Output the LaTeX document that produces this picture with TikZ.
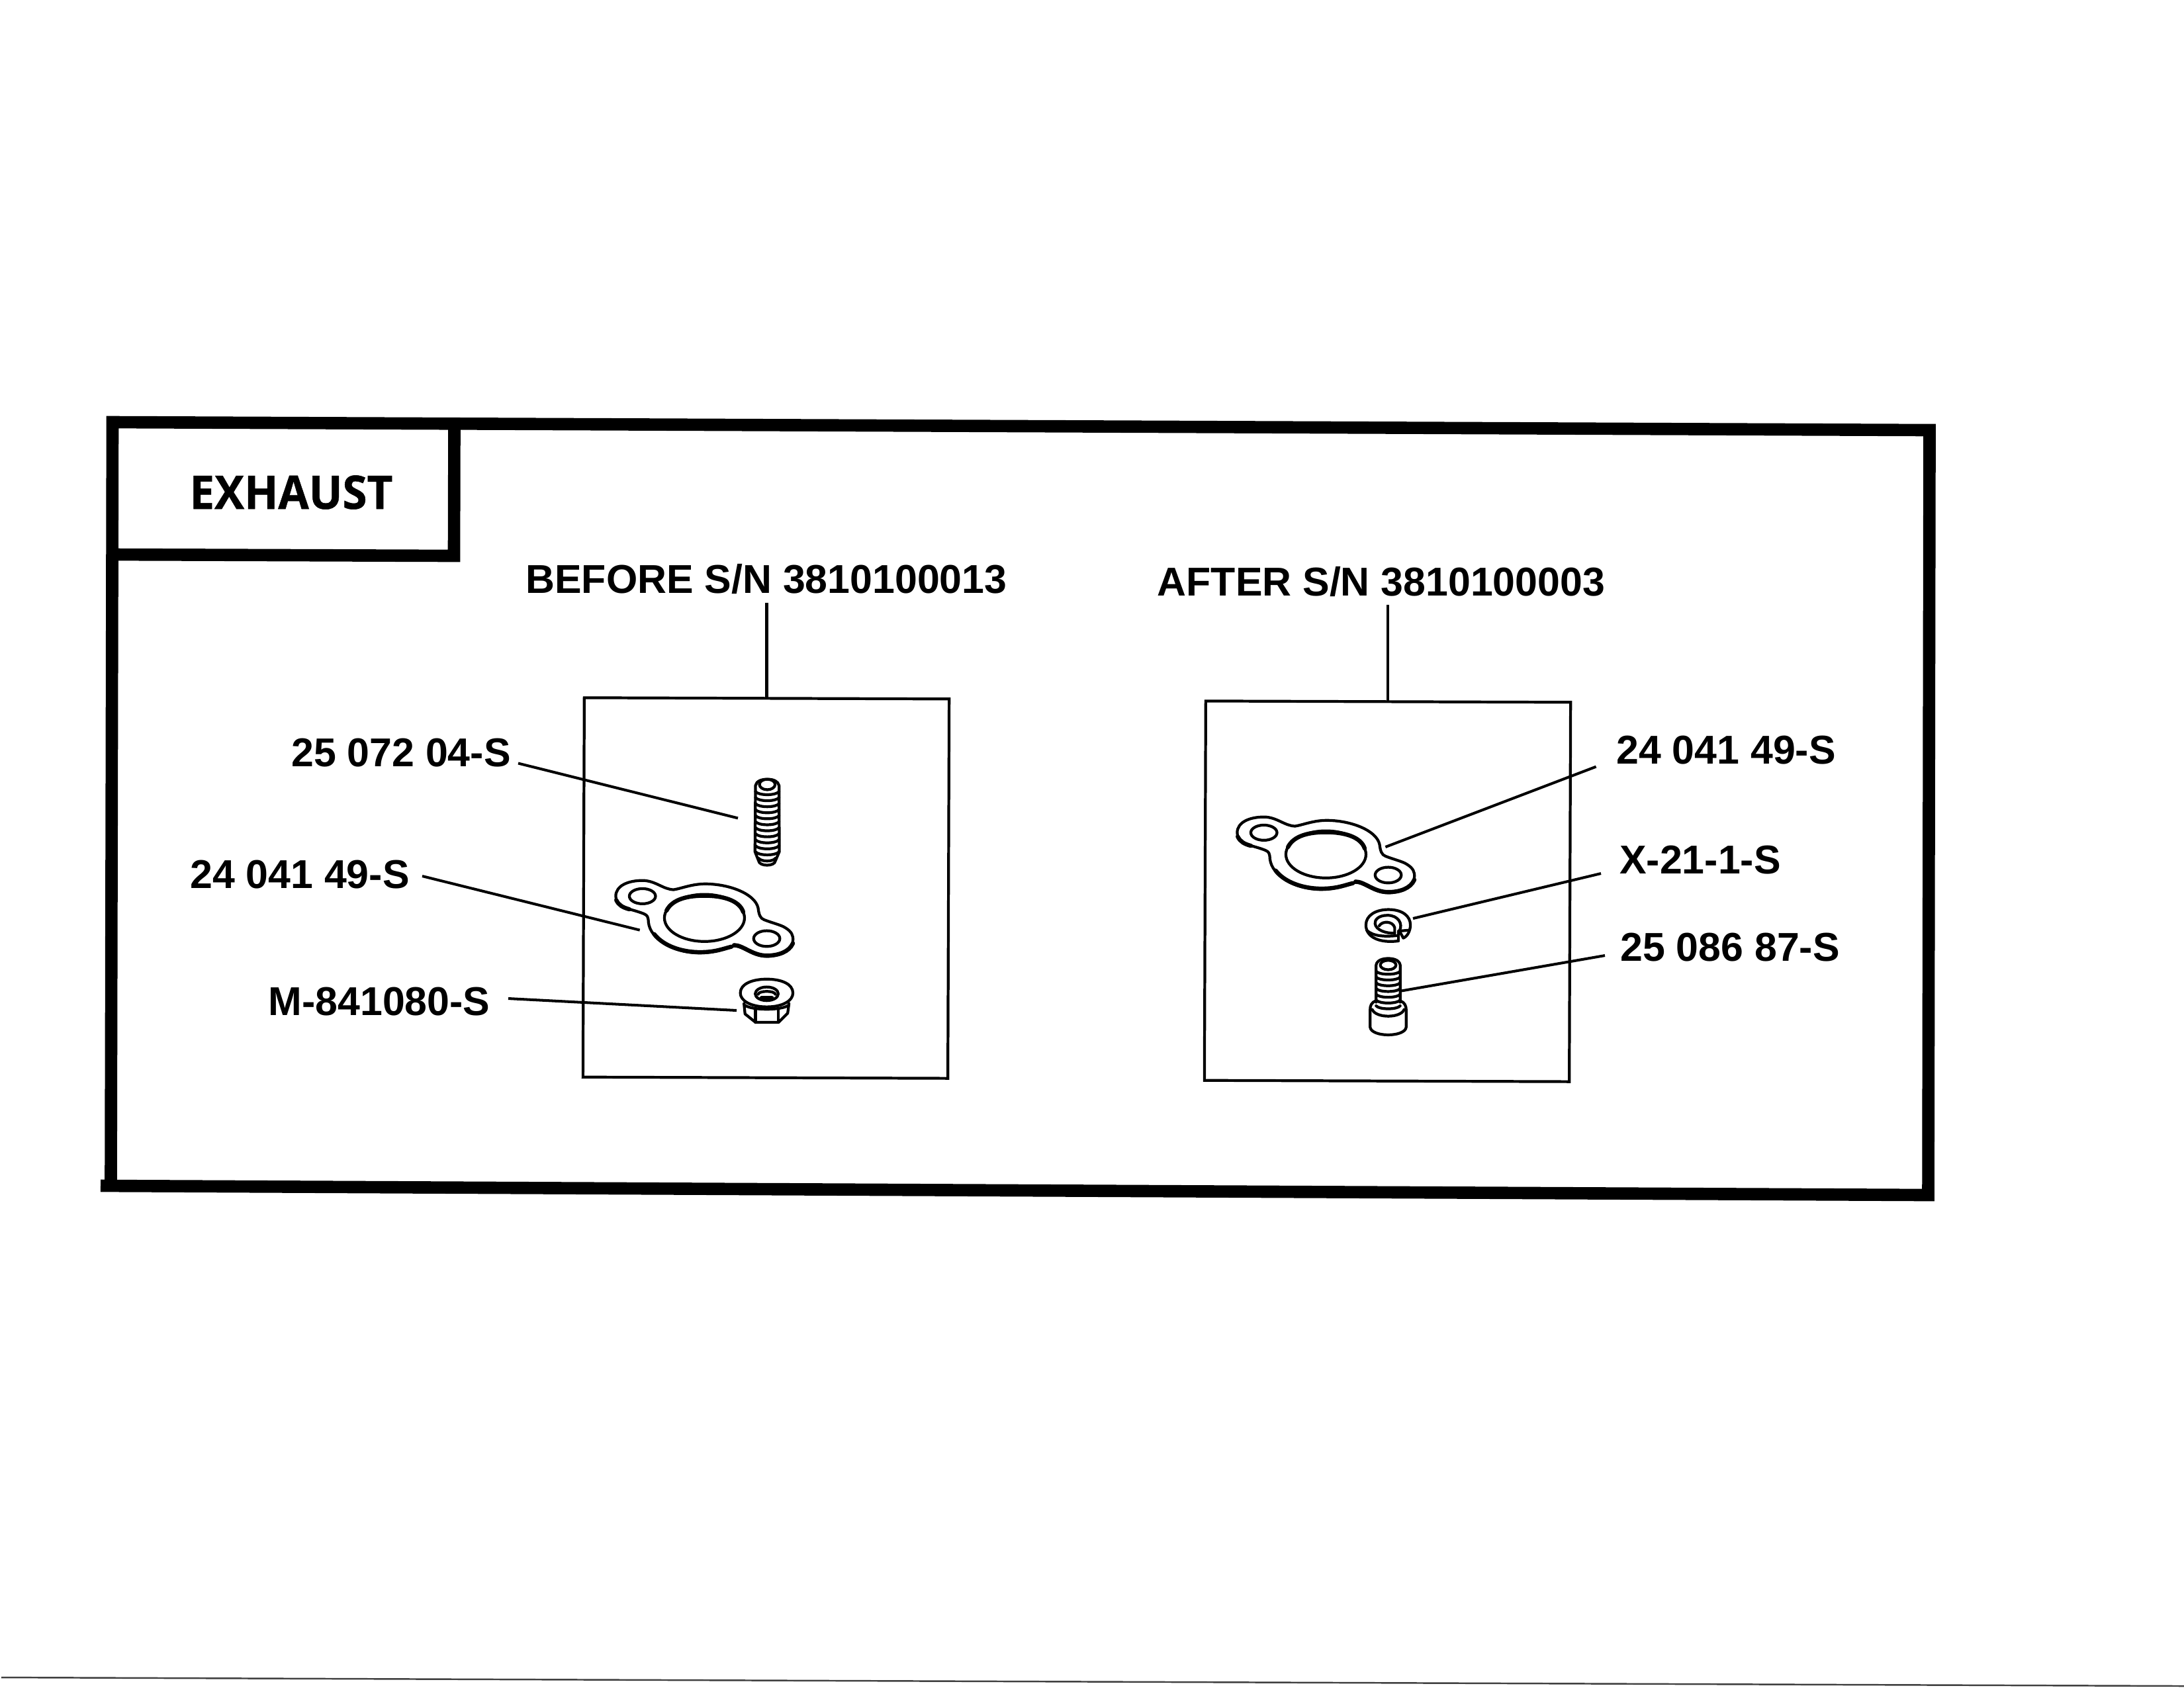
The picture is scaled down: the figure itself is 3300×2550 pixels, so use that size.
\documentclass[tikz,border=0pt]{standalone}
\usepackage{fontspec}
\setmainfont{Liberation Sans}
\newfontfamily\tabfont{Open Sans}[FakeStretch=0.96,FakeBold=0.7]
\tikzset{
  x=0.01cm,y=-0.01cm,
  frameline/.style={line width=5.3pt,line cap=butt,miter limit=10},
  panel/.style={draw,line width=1.2pt,minimum width=5.51cm,minimum height=5.73cm,inner sep=0pt,outer sep=0pt,rotate=-0.2},
  leader/.style={line width=1.15pt},
  part/.style={line width=1.2pt,line join=round,line cap=round},
  heavy/.style={line width=1.8pt,line cap=round},
  partlabel/.style={font=\fontsize{17.3}{21}\selectfont\bfseries,anchor=base,inner sep=0pt},
  tablabel/.style={font=\tabfont\fontsize{19.9}{24}\selectfont\bfseries,anchor=base,inner sep=0pt},
}
\newcommand{\gasketparts}{%
  \draw[part,fill=white] (178,795) .. controls (178,755) and (225,735) .. (280,735)
    .. controls (330,735) and (360,770) .. (400,770)
    .. controls (430,765) and (470,748) .. (520,748)
    .. controls (610,748) and (710,785) .. (722,840)
    .. controls (725,865) and (730,880) .. (745,885)
    .. controls (775,897) and (810,905) .. (825,915)
    .. controls (850,930) and (857,945) .. (855,965)
    .. controls (850,1005) and (800,1025) .. (755,1025)
    .. controls (700,1025) and (665,985) .. (630,985)
    .. controls (600,990) and (560,1012) .. (500,1012)
    .. controls (400,1012) and (310,960) .. (303,895)
    .. controls (302,875) and (300,868) .. (285,862)
    .. controls (255,850) and (225,845) .. (205,835)
    .. controls (185,825) and (178,810) .. (178,795) -- cycle;
  \draw[heavy] (855,975) .. controls (840,1008) and (800,1022) .. (755,1022)
    .. controls (700,1022) and (665,982) .. (630,982);
  \draw[heavy] (620,988) .. controls (590,995) and (560,1009) .. (500,1009)
    .. controls (430,1009) and (360,985) .. (325,940);
  \draw[heavy] (180,810) .. controls (190,830) and (205,838) .. (230,845);
  \draw[part] (280,795) ellipse [x radius=50,y radius=29];
  \draw[part] (755,957) ellipse [x radius=50,y radius=30];
  \draw[part] (517,878) ellipse [x radius=153,y radius=90];
  \draw[heavy] (372,850) .. controls (395,805) and (455,793) .. (517,793)
    .. controls (585,793) and (650,810) .. (665,855);
}
\newcommand{\threads}[4]{% x1, x2, list, bow
  \foreach \ty in {#3} {
    \draw[part] (#1,\ty) .. controls (#1+12,\ty+#4) and (#2-12,\ty+#4) .. (#2,\ty);
  }
}
\begin{document}
\begin{tikzpicture}
\path[use as bounding box] (0,0) rectangle (3300,2550);

% outer frame and title tab
\draw[frameline] (152,1792) -- (2913.5,1806) -- (2915.5,650) -- (170,638) -- (167.5,1792);
\draw[frameline] (170,838) -- (686,840) -- (686.5,642);
\node[tablabel] (title) at (440,769) {EXHAUST};

% headings
\node[partlabel] (before) at (1158,896) {BEFORE S/N 3810100013};
\node[partlabel] (after) at (2087,900) {AFTER S/N 3810100003};

% panels
\node[panel] (panelA) at (1157.5,1342) {};
\node[panel] (panelB) at (2096.5,1347) {};
\coordinate (tickA) at (1158.5,911);
\coordinate (tickB) at (2097,914);
\draw[leader] (tickA) -- (tickA |- panelA.north);
\draw[leader] (tickB) -- (tickB |- panelB.north);

% left part numbers
\node[partlabel] (pa) at (606,1158) {25 072 04-S};
\node[partlabel] (pb) at (453,1342) {24 041 49-S};
\node[partlabel] (pc) at (573,1534) {M-841080-S};
% right part numbers
\node[partlabel] (pd) at (2608,1154) {24 041 49-S};
\node[partlabel] (pe) at (2569,1320) {X-21-1-S};
\node[partlabel] (pf) at (2614,1452) {25 086 87-S};

% leader ends
\coordinate (aS) at (783,1153.5); \coordinate (aE) at (1115,1236.4);
\coordinate (bS) at (638,1324);   \coordinate (bE) at (966.7,1405.6);
\coordinate (cS) at (768,1509);   \coordinate (cE) at (1113,1527);
\coordinate (dS) at (2411.6,1158.6); \coordinate (dE) at (2093.4,1280);
\coordinate (eS) at (2419,1320);  \coordinate (eE) at (2135,1388);
\coordinate (fS) at (2425,1444);  \coordinate (fE) at (2116,1497.7);

% left panel parts
\begin{scope}[shift={(860,1040)},x=0.00395cm,y=-0.00395cm]
  \gasketparts
  % stud
  \draw[part] (712,372) .. controls (715,355) and (735,348) .. (757,348)
     .. controls (780,348) and (798,355) .. (802,372)
     -- (803,625) -- (788,660) .. controls (786,682) and (726,682) .. (724,660) -- (710,625) -- cycle;
  \draw[part] (757,368) ellipse [x radius=30,y radius=20];
  \threads{712}{802}{395,418,441,464,487,510,533,556,579,602,625}{16}
  \draw[part] (724,650) .. controls (735,664) and (778,664) .. (788,650);
  % nut
  \draw[part] (654,1165) .. controls (654,1130) and (700,1112) .. (755,1112)
     .. controls (810,1112) and (855,1130) .. (855,1165)
     .. controls (855,1195) and (815,1218) .. (755,1218)
     .. controls (695,1218) and (654,1195) .. (654,1165) -- cycle;
  \draw[part] (755,1168) ellipse [x radius=44,y radius=26];
  \draw[part] (722,1170) .. controls (725,1155) and (785,1155) .. (788,1170);
  \draw[heavy] (735,1185) -- (775,1185);
  \draw[part] (668,1205) -- (672,1245) -- (712,1277) -- (800,1277) -- (835,1242) -- (840,1205);
  \draw[part] (672,1212) .. controls (700,1232) and (810,1232) .. (838,1212);
  \draw[part] (712,1228) -- (712,1277) (800,1228) -- (800,1277);
\end{scope}

% right panel parts
\begin{scope}[shift={(1799,944)},x=0.00395cm,y=-0.00395cm]
  \gasketparts
\end{scope}
\begin{scope}[shift={(1810,1040)},x=0.00395cm,y=-0.00395cm]
  % lock washer: outer contour
  \draw[part] (766,966) .. controls (700,975) and (642,955) .. (642,905)
     .. controls (642,868) and (680,846) .. (728,846)
     .. controls (780,846) and (812,870) .. (812,905)
     .. controls (812,925) and (802,948) .. (785,955) -- (770,928);
  % opening and top face
  \draw[part] (770,928) .. controls (785,900) and (765,868) .. (725,868)
     .. controls (690,868) and (675,885) .. (677,900)
     .. controls (680,925) and (720,938) .. (752,936);
  % inner wall
  \draw[part] (693,908) .. controls (705,888) and (745,890) .. (752,915) -- (752,936);
  % lower face
  \draw[part] (645,925) .. controls (670,950) and (720,950) .. (766,945);
  \draw[part] (766,928) -- (766,966);
  \draw[part] (770,928) -- (806,925);
  % bolt
  \draw[part] (681,1058) .. controls (684,1040) and (705,1033) .. (727,1033)
     .. controls (750,1033) and (770,1040) .. (773,1058)
     -- (773,1200) (681,1058) -- (681,1200);
  \draw[part] (727,1058) ellipse [x radius=30,y radius=18];
  \threads{681}{773}{1082,1104,1126,1148,1170,1192,1214}{15}
  \draw[part] (681,1195) .. controls (662,1200) and (658,1215) .. (658,1230) -- (658,1295)
     .. controls (662,1335) and (792,1335) .. (796,1295) -- (796,1230)
     .. controls (796,1215) and (790,1200) .. (773,1195);
  \draw[part] (666,1228) .. controls (680,1262) and (775,1262) .. (788,1228);
\end{scope}

% leaders
\draw[leader] (aS) -- (aE);
\draw[leader] (bS) -- (bE);
\draw[leader] (cS) -- (cE);
\draw[leader] (dS) -- (dE);
\draw[leader] (eS) -- (eE);
\draw[leader] (fS) -- (fE);

% scan line at the foot of the sheet
\coordinate (footL) at (2,2535);
\coordinate (footR) at (3300,2548);
\draw[line width=0.7pt,black!75] (footL) -- (footR);
\end{tikzpicture}
\end{document}
